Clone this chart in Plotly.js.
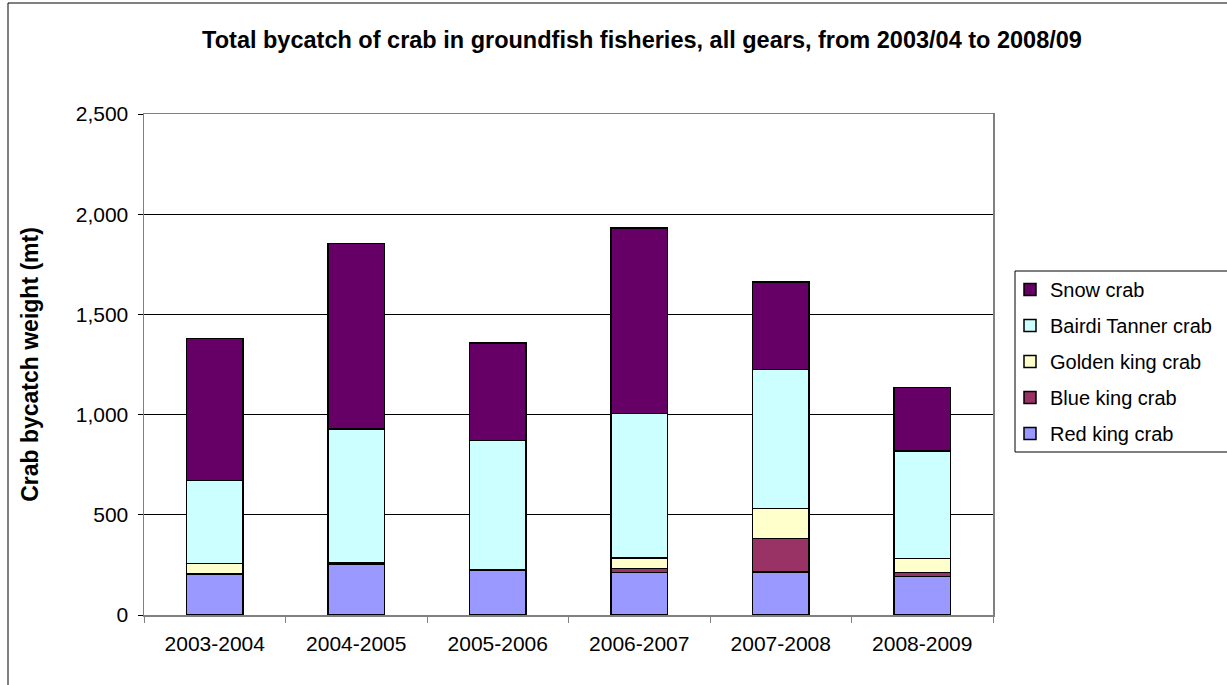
<!DOCTYPE html>
<html>
<head>
<meta charset="utf-8">
<script src="https://cdn.plot.ly/plotly-3.0.1.min.js"></script>
<style>html,body{margin:0;padding:0;background:#fff;}#chart{width:1227px;height:685px;}</style>
</head>
<body>
<div id="chart"></div>
<script>
const seasons = ["2003-2004", "2004-2005", "2005-2006", "2006-2007", "2007-2008", "2008-2009"];
const redKing = [203, 253, 225, 212, 215, 193];
const blueKing = [2, 5, 1, 21, 168, 20];
const goldenKing = [52, 5, 2, 52, 149, 70];
const bairdiTanner = [413, 665, 643, 720, 693, 535];
const snowCrab = [710, 925, 487, 925, 437, 317];

const seriesNames = ["Red king crab", "Blue king crab", "Golden king crab", "Bairdi Tanner crab", "Snow crab"];
const seriesValues = [redKing, blueKing, goldenKing, bairdiTanner, snowCrab];
const seriesColors = ["#9999FF", "#993366", "#FFFFCC", "#CCFFFF", "#660066"];

const traces = seriesNames.map((name, i) => ({
  type: "bar",
  name: name,
  x: seasons,
  y: seriesValues[i],
  legendgroup: "g" + i,
  legendrank: 1000 - i,
  marker: { color: seriesColors[i], line: { color: "#000000", width: 1.5 } },
  hoverinfo: "x+y+name"
}));

const W = 1227, H = 685;
const L = 144, R = 993, T = 114, B = 615;
const pw = R - L, ph = B - T;
const px = v => (v - L) / pw;
const py = v => (B - v) / ph;

const layout = {
  width: W, height: H,
  margin: { l: L, r: W - R, t: T, b: H - B, pad: 0, autoexpand: false },
  paper_bgcolor: "#ffffff",
  plot_bgcolor: "#ffffff",
  font: { family: "Arial, 'Liberation Sans', sans-serif", color: "#000000", size: 20 },
  barmode: "stack",
  bargap: 0.6,
  title: {
    text: "Total bycatch of crab in groundfish fisheries, all gears, from 2003/04 to 2008/09",
    font: { size: 23.5, weight: "bold", color: "#000000" },
    x: 642 / W, xanchor: "center", xref: "container",
    y: 1 - 40 / H, yanchor: "middle", yref: "container"
  },
  xaxis: {
    type: "category",
    showline: true, linecolor: "#808080", linewidth: 1.5, mirror: true,
    ticks: "outside", ticklen: 6, tickcolor: "#808080", tickson: "boundaries",
    tickfont: { size: 21 }, ticklabelstandoff: 9,
    showgrid: false, zeroline: false
  },
  yaxis: {
    range: [0, 2500], dtick: 500, tickformat: ",d",
    showline: true, linecolor: "#808080", linewidth: 1.5, mirror: true,
    ticks: "outside", ticklen: 5, tickcolor: "#000000",
    showgrid: true, gridcolor: "#000000", gridwidth: 1,
    zeroline: false,
    tickfont: { size: 21 }, ticklabelstandoff: 5,
    title: { text: "Crab bycatch weight (mt)", font: { size: 23, weight: "bold" }, standoff: 30 }
  },
  showlegend: true,
  legend: {
    x: px(1010), xanchor: "left",
    y: py(270), yanchor: "top",
    traceorder: "grouped",
    tracegroupgap: 7,
    font: { size: 20 },
    bgcolor: "rgba(0,0,0,0)",
    borderwidth: 0
  },
  shapes: [
    { type: "rect", xref: "paper", yref: "paper",
      x0: px(8), x1: px(1240), y0: py(700), y1: py(3),
      line: { color: "#000000", width: 1 }, fillcolor: "rgba(0,0,0,0)", layer: "below" },
    { type: "rect", xref: "paper", yref: "paper",
      x0: px(1015), x1: px(1240), y0: py(452), y1: py(271),
      line: { color: "#000000", width: 1 }, fillcolor: "rgba(0,0,0,0)", layer: "below" }
  ]
};

Plotly.newPlot("chart", traces, layout, { displayModeBar: false, staticPlot: true });
</script>
</body>
</html>
